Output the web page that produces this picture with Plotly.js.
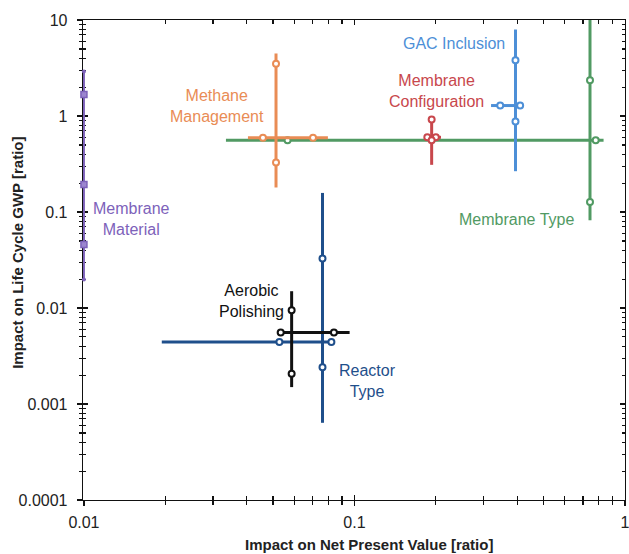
<!DOCTYPE html>
<html>
<head>
<meta charset="utf-8">
<script src="https://cdn.plot.ly/plotly-3.0.1.min.js"></script>
<style>html,body{margin:0;padding:0;background:#fff;}#chart{width:629px;height:554px;}</style>
</head>
<body>
<div id="chart"></div>
<script>
// ---------- data ----------
// Membrane Type (green)
const typeHY = 0.56;
const typeHX = [0.0335, 0.834];
const typeHMarkX = [0.0566, 0.78];
const typeVX = 0.743;
const typeVY = [0.082, 10.6];
const typeVMarkY = [2.36, 0.127];

// Methane Management (orange)
const methHY = 0.593;
const methHX = [0.0404, 0.0798];
const methHMarkX = [0.0459, 0.0703];
const methVX = 0.0513;
const methVY = [0.18, 4.48];
const methVMarkY = [3.5, 0.328];

// Membrane Configuration (red)
const confHY = 0.6;
const confHX = [0.181, 0.209];
const confHMarkX = [0.186, 0.2];
const confVX = 0.193;
const confVY = [0.31, 0.92];
const confVMarkY = [0.92, 0.56];

// GAC Inclusion (light blue)
const gacHY = 1.285;
const gacHX = [0.32, 0.419];
const gacHMarkX = [0.346, 0.41];
const gacVX = 0.394;
const gacVY = [0.266, 7.96];
const gacVMarkY = [3.81, 0.877];

// Reactor Type (dark blue)
const reacHY = 0.00443;
const reacHX = [0.0194, 0.0822];
const reacHMarkX = [0.0528, 0.0822];
const reacVX = 0.0762;
const reacVY = [0.000637, 0.158];
const reacVMarkY = [0.0328, 0.00242];

// Aerobic Polishing (black)
const aeroHY = 0.00556;
const aeroHX = [0.0517, 0.096];
const aeroHMarkX = [0.0534, 0.084];
const aeroVX = 0.0586;
const aeroVY = [0.0015, 0.01496];
const aeroVMarkY = [0.00948, 0.00207];

// Membrane Material (purple)
const matVX = 0.01;
const matVY = [0.0198, 2.9];
const matSquareY = [1.67, 0.193, 0.046];
const matEndY = [2.9, 0.0198];

// ticks
const xTickVals = [0.01, 0.1, 1];
const xTickText = ['0.01', '0.1', '1'];
const yTickVals = [0.0001, 0.001, 0.01, 0.1, 1, 10];
const yTickText = ['0.0001', '0.001', '0.01', '0.1', '1', '10'];

// ---------- styles ----------
const C = {
  green: '#519a63', orange: '#e98c55', red: '#c8474c', lblue: '#4d8fd7',
  dblue: '#1f4f8b', black: '#111111', purple: '#7d62ba'
};

function minorVals(lo, hi) {
  const v = [];
  for (let e = lo; e < hi; e++) for (let m = 2; m <= 9; m++) v.push(m * Math.pow(10, e));
  return v;
}

const traces = [];
function cross(color, hy, hx, hmx, vx, vy, vmy, lw) {
  if (hx) traces.push({x: hx, y: [hy, hy], mode: 'lines', line: {color: color, width: lw}, hoverinfo: 'skip', showlegend: false});
  traces.push({x: [vx, vx], y: vy, mode: 'lines', line: {color: color, width: lw}, hoverinfo: 'skip', showlegend: false});
  const mx = [], my = [];
  if (hmx) hmx.forEach(v => { mx.push(v); my.push(hy); });
  vmy.forEach(v => { mx.push(vx); my.push(v); });
  traces.push({x: mx, y: my, mode: 'markers', cliponaxis: false,
    marker: {symbol: 'circle', size: 6, color: '#ffffff', line: {color: color, width: 2}},
    hoverinfo: 'skip', showlegend: false});
}

cross(C.green, typeHY, typeHX, typeHMarkX, typeVX, typeVY, typeVMarkY, 3);
cross(C.orange, methHY, methHX, methHMarkX, methVX, methVY, methVMarkY, 3);
cross(C.red, confHY, confHX, confHMarkX, confVX, confVY, confVMarkY, 3);
cross(C.lblue, gacHY, gacHX, gacHMarkX, gacVX, gacVY, gacVMarkY, 3);
cross(C.dblue, reacHY, reacHX, reacHMarkX, reacVX, reacVY, reacVMarkY, 3);
cross(C.black, aeroHY, aeroHX, aeroHMarkX, aeroVX, aeroVY, aeroVMarkY, 3);

// purple membrane material
traces.push({x: [matVX, matVX], y: matVY, mode: 'lines', line: {color: C.purple, width: 2}, hoverinfo: 'skip', showlegend: false});
traces.push({x: matSquareY.map(() => matVX), y: matSquareY, mode: 'markers', cliponaxis: false,
  marker: {symbol: 'square', size: 6, color: '#9c86cf', line: {color: C.purple, width: 1.5}}, hoverinfo: 'skip', showlegend: false});
traces.push({x: matEndY.map(() => matVX), y: matEndY, mode: 'markers', cliponaxis: false,
  marker: {symbol: 'circle', size: 4, color: C.purple}, hoverinfo: 'skip', showlegend: false});

// dummy trace for overlay axes (outside tick halves)
traces.push({x: [0.01], y: [1], xaxis: 'x2', yaxis: 'y2', mode: 'markers', marker: {opacity: 0}, hoverinfo: 'skip', showlegend: false});

const xRange = [Math.log10(0.00992), 0.0004];
const yRange = [-4, 1];
const tickFont = {family: 'Liberation Sans, Arial, sans-serif', size: 16, color: '#222'};

const baseX = {
  type: 'log', range: xRange, tickmode: 'array', tickvals: xTickVals, ticktext: xTickText,
  showgrid: false, zeroline: false, ticklen: 5, tickwidth: 1.3, tickcolor: '#111'
};
const baseY = {
  type: 'log', range: yRange, tickmode: 'array', tickvals: yTickVals, ticktext: yTickText,
  showgrid: false, zeroline: false, ticklen: 5, tickwidth: 1.3, tickcolor: '#111'
};

const layout = {
  width: 629, height: 554,
  margin: {l: 83, r: 4, t: 20, b: 54},
  paper_bgcolor: '#fff', plot_bgcolor: '#fff',
  font: {family: 'Liberation Sans, Arial, sans-serif'},
  xaxis: Object.assign({}, baseX, {
    ticks: 'inside', mirror: 'allticks', showline: true, linecolor: '#111', linewidth: 1.3,
    tickfont: tickFont, layer: 'below traces', ticklabelstandoff: 7, ticklabeloverflow: 'allow',
    minor: {tickmode: 'array', tickvals: minorVals(-2, 0), ticks: 'inside', ticklen: 4, tickwidth: 1.2, tickcolor: '#111', showgrid: false}
  }),
  yaxis: Object.assign({}, baseY, {
    ticks: 'inside', mirror: 'allticks', showline: true, linecolor: '#111', linewidth: 1.3,
    tickfont: tickFont, layer: 'below traces', ticklabelstandoff: 11, ticklabeloverflow: 'allow',
    minor: {tickmode: 'array', tickvals: minorVals(-4, 1), ticks: 'inside', ticklen: 3, tickwidth: 1.2, tickcolor: '#111', showgrid: false}
  }),
  xaxis2: Object.assign({}, baseX, {
    overlaying: 'x', anchor: 'y', side: 'bottom', ticks: 'outside', showline: false, showticklabels: false, layer: 'below traces',
    minor: {tickmode: 'array', tickvals: minorVals(-2, 0), ticks: 'outside', ticklen: 4, tickwidth: 1.2, tickcolor: '#111', showgrid: false}
  }),
  yaxis2: Object.assign({}, baseY, {
    overlaying: 'y', anchor: 'x', side: 'left', ticks: 'outside', showline: false, showticklabels: false, layer: 'below traces',
    minor: {tickmode: 'array', tickvals: minorVals(-4, 1), ticks: 'outside', ticklen: 3, tickwidth: 1.2, tickcolor: '#111', showgrid: false}
  }),
  annotations: [
    {xref: 'paper', yref: 'paper', x: 0.528, y: -0.0, yshift: -44, text: '<b>Impact on Net Present Value [ratio]</b>', showarrow: false,
      font: {size: 15, color: '#222'}, xanchor: 'center', yanchor: 'middle'},
    {xref: 'paper', yref: 'paper', x: 0, xshift: -65, y: 0.515, text: '<b>Impact on Life Cycle GWP [ratio]</b>', showarrow: false,
      textangle: -90, font: {size: 15, color: '#222'}, xanchor: 'center', yanchor: 'middle'},
    {x: -1.823, y: -1.078, text: 'Membrane<br>Material', showarrow: false, font: {size: 16, color: C.purple}, align: 'center'},
    {x: -1.508, y: 0.109, text: 'Methane<br>Management', showarrow: false, font: {size: 16, color: C.orange}, align: 'center'},
    {x: -0.633, y: 0.752, text: 'GAC Inclusion', showarrow: false, font: {size: 16, color: C.lblue}, align: 'center'},
    {x: -0.695, y: 0.258, text: 'Membrane<br>Configuration', showarrow: false, font: {size: 16, color: C.red}, align: 'center'},
    {x: -0.399, y: -1.078, text: 'Membrane Type', showarrow: false, font: {size: 16, color: C.green}, align: 'center'},
    {x: -1.381, y: -1.927, text: 'Aerobic<br>Polishing', showarrow: false, font: {size: 16, color: C.black}, align: 'center'},
    {x: -0.95, y: -2.76, text: 'Reactor<br>Type', showarrow: false, font: {size: 16, color: C.dblue}, align: 'center'}
  ]
};

Plotly.newPlot('chart', traces, layout, {staticPlot: true, displayModeBar: false});
</script>
</body>
</html>
